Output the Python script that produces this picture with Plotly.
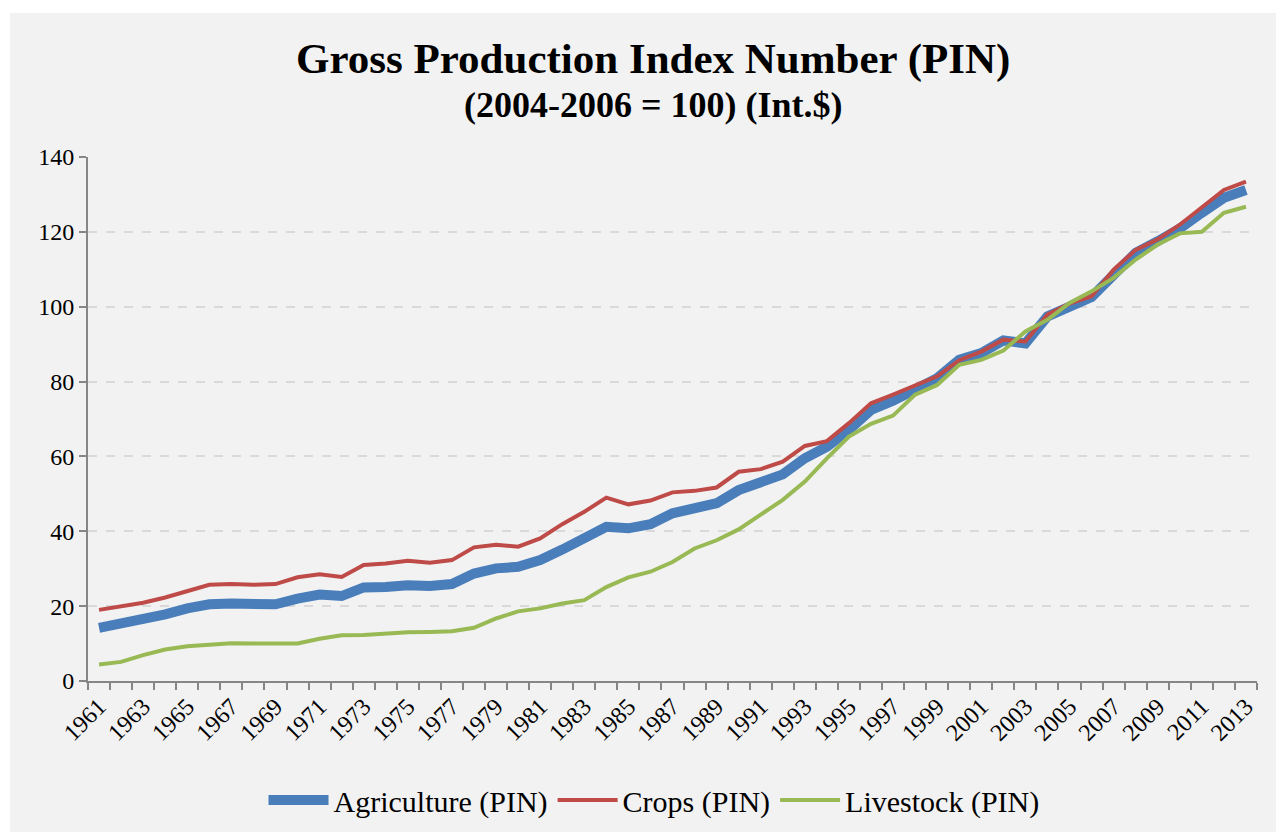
import plotly.graph_objects as go

years = list(range(1961, 2014))

agriculture = [14.2, 15.2, 16.4, 17.8, 19.4, 20.5, 20.7, 20.5, 20.5, 22.0,
               23.1, 22.7, 25.0, 25.1, 25.6, 25.4, 25.9, 28.7, 30.1, 30.5,
               32.3, 35.1, 37.8, 41.2, 40.8, 41.9, 44.8, 46.2, 47.5, 51.0,
               52.8, 55.2, 59.5, 62.6, 67.1, 72.4, 74.9, 77.8, 80.9, 85.8,
               87.6, 91.0, 90.2, 97.4, 100.3, 102.6, 108.5, 114.4, 117.5, 120.9,
               125.1, 129.1, 131.2]

crops = [19.0, 20.0, 20.9, 22.3, 24.1, 25.7, 25.9, 25.7, 25.9, 27.7,
         28.5, 27.8, 31.0, 31.4, 32.1, 31.6, 32.3, 35.7, 36.4, 35.9,
         38.1, 41.9, 45.2, 49.0, 47.2, 48.2, 50.4, 50.8, 51.7, 55.9,
         56.6, 58.6, 62.8, 64.1, 68.9, 74.2, 76.5, 78.9, 81.4, 85.7,
         88.0, 91.2, 90.7, 97.9, 100.8, 102.8, 109.9, 115.2, 118.0, 121.9,
         126.7, 131.2, 133.4]

livestock = [4.4, 5.1, 6.9, 8.4, 9.3, 9.8, 10.1, 10.0, 9.9, 10.0,
             11.3, 12.2, 12.3, 12.7, 13.0, 13.1, 13.3, 14.2, 16.7, 18.6,
             19.4, 20.7, 21.6, 25.1, 27.7, 29.2, 31.8, 35.4, 37.6, 40.5,
             44.6, 48.4, 53.3, 59.5, 65.3, 68.7, 70.9, 76.5, 79.1, 84.5,
             85.8, 88.3, 93.4, 96.5, 101.0, 104.1, 107.7, 112.6, 116.6, 119.6,
             120.0, 125.1, 126.7]

tick_years = [y for y in years if (y - 1961) % 2 == 0]
tick_labels = [str(y) for y in tick_years]

title_text = "Gross Production Index Number (PIN)"
subtitle_text = "(2004-2006 = 100) (Int.$)"
series_names = ["Agriculture (PIN)", "Crops (PIN)", "Livestock (PIN)"]

FONT = "Liberation Serif"
BG = "#f2f2f2"
AXIS = "#868686"

# plot area in figure pixels
L, T, R, B = 80, 149, 1249, 673
PW, PH = R - L, B - T

def px_x(p):
    return (p - L) / PW

def px_y(p):
    return (B - p) / PH

fig = go.Figure()
fig.add_trace(go.Scatter(x=years, y=agriculture, mode="lines", name=series_names[0],
                         line=dict(color="#4a7ebb", width=10)))
fig.add_trace(go.Scatter(x=years, y=crops, mode="lines", name=series_names[1],
                         line=dict(color="#be4b48", width=4)))
fig.add_trace(go.Scatter(x=years, y=livestock, mode="lines", name=series_names[2],
                         line=dict(color="#98b954", width=4)))

fig.update_layout(
    width=1284, height=832,
    paper_bgcolor="#ffffff", plot_bgcolor=BG,
    margin=dict(l=L, r=1284 - R, t=T, b=832 - B),
    font=dict(family=FONT, color="#000000", size=24),
    showlegend=True,
    legend=dict(orientation="h", x=px_x(646), xanchor="center", y=px_y(792), yanchor="middle",
                font=dict(size=30, family=FONT), bgcolor="rgba(0,0,0,0)",
                itemwidth=60),
    shapes=[dict(type="rect", xref="paper", yref="paper",
                 x0=px_x(2), x1=px_x(1290), y0=px_y(840), y1=px_y(5),
                 fillcolor=BG, line=dict(width=0), layer="below")],
    annotations=[
        dict(text="<b>" + title_text + "</b>", xref="paper", yref="paper",
             x=px_x(645), y=px_y(51), xanchor="center", yanchor="middle",
             showarrow=False, font=dict(size=43, family=FONT)),
        dict(text="<b>" + subtitle_text + "</b>", xref="paper", yref="paper",
             x=px_x(645), y=px_y(97), xanchor="center", yanchor="middle",
             showarrow=False, font=dict(size=36, family=FONT)),
    ],
)

fig.update_xaxes(
    range=[1960.5, 2013.5],
    tickmode="array", tickvals=tick_years, ticktext=tick_labels,
    tickangle=-45, ticks="", showgrid=False, zeroline=False,
    showline=True, linecolor=AXIS, linewidth=2,
    tickfont=dict(size=24, family=FONT),
    minor=dict(tick0=1960.5, dtick=1, ticks="outside", ticklen=7,
               tickcolor=AXIS, tickwidth=1.5, showgrid=False),
)
fig.update_yaxes(
    range=[0, 140], dtick=20, tick0=0,
    showgrid=True, gridcolor="#d9d9d9", griddash="dash", gridwidth=1.5,
    zeroline=False, showline=True, linecolor=AXIS, linewidth=2,
    ticks="outside", ticklen=7, tickcolor=AXIS, tickwidth=1.5,
    tickfont=dict(size=24, family=FONT),
)

fig.write_html("out.html")
